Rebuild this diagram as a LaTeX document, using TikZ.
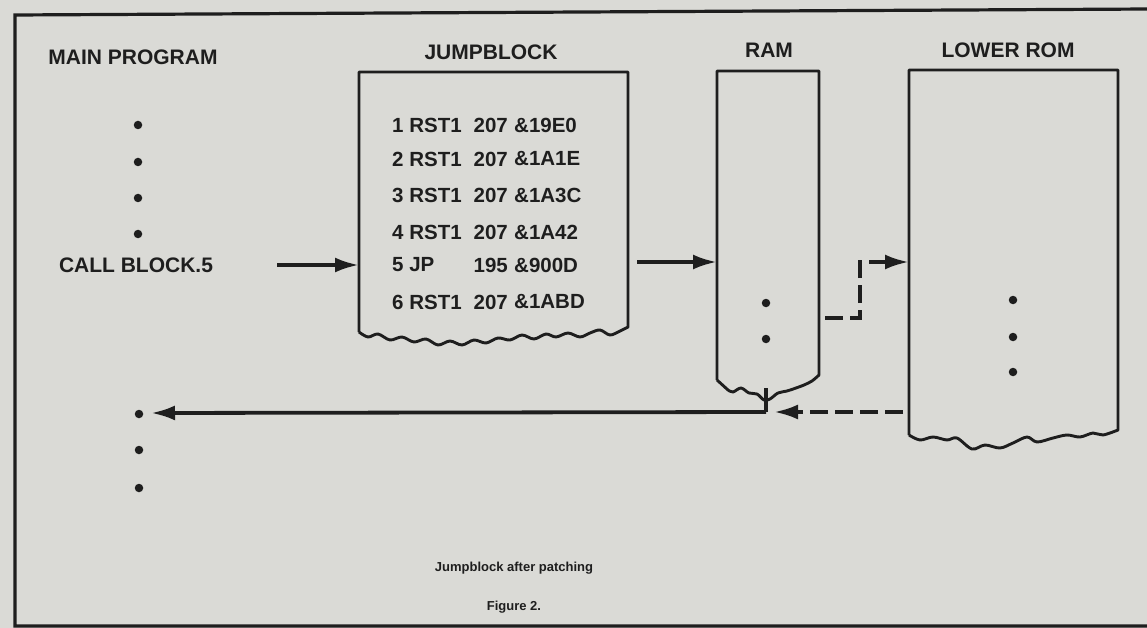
\documentclass[tikz,border=0pt]{standalone}
\usepackage{fontspec}
\setmainfont{Liberation Sans}
\usetikzlibrary{arrows.meta}
\definecolor{paper}{RGB}{218,218,214}
\definecolor{ink}{RGB}{30,30,30}
\tikzset{
  title/.style={font=\bfseries\fontsize{21}{25}\selectfont, text=ink, inner sep=0pt},
  entry/.style={font=\bfseries\fontsize{20.5}{24}\selectfont, text=ink, inner sep=0pt},
  capt/.style={font=\bfseries\fontsize{13}{16}\selectfont, text=ink, inner sep=0pt},
  outline/.style={draw=ink, line width=2.9pt, line join=round},
  framed/.style={draw=ink, line width=3.2pt},
  conn/.style={draw=ink, line width=3.8pt, -{Latex[length=24pt,width=15pt]}},
  dconn/.style={conn, dash pattern=on 18pt off 7pt},
  plain/.style={draw=ink, line width=3.4pt},
  dot/.style={circle, fill=ink, inner sep=0pt, minimum size=8.5pt},
}
\begin{document}
\begin{tikzpicture}[x=1pt,y=-1pt]
\fill[paper] (0,0) rectangle (1147,628);
\useasboundingbox (0,0) rectangle (1147,628);

% outer frame (right side lies beyond the picture)
\draw[framed] (1150,9) -- (15,15) -- (15,626) -- (1150,626);

% ---------- titles ----------
\node[title] (tmain) at (133,57) {MAIN PROGRAM};
\node[title] (tjb)   at (491,52) {JUMPBLOCK};
\node[title] (tram)  at (769,50) {RAM};
\node[title] (trom)  at (1008,50) {LOWER ROM};

% ---------- main program ----------
\node[dot] (m1) at (138,125) {};
\node[dot] (m2) at (138,162) {};
\node[dot] (m3) at (138,198) {};
\node[dot] (m4) at (138,234) {};
\node[title] (call) at (136,265) {CALL BLOCK.5};
\coordinate (callout) at (277,265);

% ---------- jumpblock box ----------
\draw[outline] (359,332) -- (359,72) -- (628,72) -- (628,327)
  -- plot[smooth, tension=0.55] coordinates {(628,327) (620,331) (610,335) (600,330) (590,333) (580,337) (568,333) (556,337) (546,334) (534,339) (522,335) (510,340) (498,338) (486,343) (474,340) (462,345) (450,341) (438,345) (426,339) (414,342) (402,337) (390,340) (378,334) (368,337) (359,332)};
\coordinate (jbin) at (359,265);
\coordinate (jbout) at (637,262);

\foreach \i/\a/\b/\c/\y in {1/1 RST1/207/\&19E0/125, 2/2 RST1/207/\&1A1E/159, 3/3 RST1/207/\&1A3C/195, 4/4 RST1/207/\&1A42/232, 5/5 JP/195/\&900D/265, 6/6 RST1/207/\&1ABD/302}{
  \node[entry, anchor=west] (ea\i) at (392,\y) {\a};
  \node[entry, anchor=east] (eb\i) at (508,\y) {\b};
  \node[entry, anchor=west] (ec\i) at (514,\y) {\c};
}

% ---------- RAM box ----------
\draw[outline] (717,380) -- (717,71) -- (819,71) -- (819,375)
  -- plot[smooth, tension=0.55] coordinates {(819,375) (812,381) (804,385) (796,388) (787,391) (778,393) (770,399) (764,400) (757,394) (749,393) (741,388) (733,392) (728,390)} -- (717,380);
\coordinate (ramin) at (717,262);
\coordinate (ramout) at (825,318);
\coordinate (ramtap) at (766,388);
\coordinate (ramjoin) at (766,412);
\node[dot] (r1) at (766,303) {};
\node[dot] (r2) at (766,339) {};

% ---------- LOWER ROM box ----------
\draw[outline] (909,435) -- (909,70) -- (1118,70) -- (1118,430)
  -- plot[smooth, tension=0.55] coordinates {(1118,430) (1103,435) (1093,433) (1080,437) (1067,435) (1053,438) (1037,442) (1027,437) (1013,443) (1000,448) (985,445) (972,449) (957,438) (947,440) (933,437) (920,440) (909,435)};
\coordinate (romin) at (909,262);
\coordinate (romout) at (903,412);
\node[dot] (o1) at (1013,300) {};
\node[dot] (o2) at (1013,337) {};
\node[dot] (o3) at (1013,372) {};

% ---------- return side of main program ----------
\node[dot] (b1) at (139,414) {};
\node[dot] (b2) at (139,450) {};
\node[dot] (b3) at (139,488) {};
\coordinate (retend) at (151,413);

% ---------- connectors ----------
\draw[conn] (callout) -- (jbin);
\draw[conn] (jbout) -- (ramin);
\draw[dconn] (ramout) -- (860,318) -- (860,262) -- (romin);
\draw[dconn] (romout) -- (774,412);
\draw[plain] (ramtap) -- (ramjoin);
\draw[conn, line join=miter] (ramjoin) -- (retend);

% ---------- caption ----------
\node[capt] (cap1) at (514,568) {Jumpblock after patching};
\node[capt] (cap2) at (514,607) {Figure 2.};
\end{tikzpicture}
\end{document}
